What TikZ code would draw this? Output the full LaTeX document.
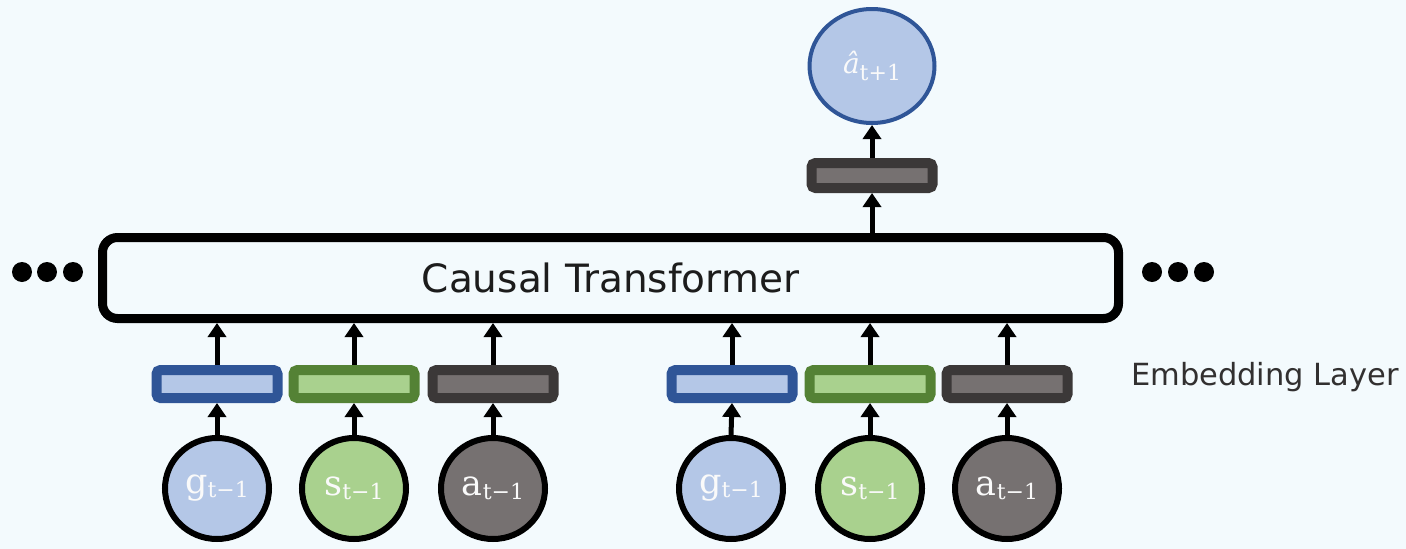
\documentclass[tikz,border=0pt]{standalone}
\usepackage{fontspec}
\setsansfont{DejaVu Sans}
\newfontfamily\lblfont{DejaVu Serif}
\usetikzlibrary{arrows.meta,shapes.geometric}
\definecolor{bg}{HTML}{F3FAFD}
\definecolor{fblue}{HTML}{B4C7E7}
\definecolor{bblue}{HTML}{2F5597}
\definecolor{fgreen}{HTML}{A9D18E}
\definecolor{bgreen}{HTML}{548235}
\definecolor{fgray}{HTML}{767171}
\definecolor{bgray}{HTML}{3B3838}
\definecolor{txt}{HTML}{1C1C1C}
% token label: base letter with a lowered, smaller index
\newcommand\toklbl[2]{#1\raisebox{-4pt}{\fontsize{22}{24}\selectfont #2}}
\tikzset{
  emb/.style={rectangle, rounded corners=4pt, line width=10pt,
    minimum width=121pt, minimum height=28pt, inner sep=0pt},
  embblue/.style={emb, draw=bblue, fill=fblue},
  embgreen/.style={emb, draw=bgreen, fill=fgreen},
  embgray/.style={emb, draw=bgray, fill=fgray},
  token/.style={ellipse, draw=black, line width=6pt, minimum width=104pt,
    minimum height=101pt, inner sep=0pt, text=white!96!gray,
    font=\lblfont\fontsize{35}{38}\selectfont},
  arr/.style={line width=5pt, -{Triangle[width=18pt,length=14pt]}},
  dot/.style={circle, fill=black, minimum size=20pt, inner sep=0pt},
}
\begin{document}
\begin{tikzpicture}[x=1pt,y=-1pt]
\fill[bg] (0,0) rectangle (1406,549);
\useasboundingbox (0,0) rectangle (1406,549);

% transformer block
\node[rectangle, draw=black, line width=9pt, rounded corners=15pt,
  minimum width=1016pt, minimum height=81pt, inner sep=0pt,
  font=\sffamily\fontsize{39}{44}\selectfont, text=txt] (tf) at (610.5,278) {Causal Transformer};

% ellipsis dots on both sides
\node[dot] (dl1) at (22,272) {};
\node[dot] (dl2) at (47,272) {};
\node[dot] (dl3) at (73,272) {};
\node[dot] (dr1) at (1152,272) {};
\node[dot] (dr2) at (1178,272) {};
\node[dot] (dr3) at (1204,272) {};

% embedding layer
\node[embblue]  (e1) at (217,384) {};
\node[embgreen] (e2) at (354,384) {};
\node[embgray]  (e3) at (493,384) {};
\node[embblue]  (e4) at (732,384) {};
\node[embgreen] (e5) at (870,384) {};
\node[embgray]  (e6) at (1007,384) {};
\node[font=\sffamily\fontsize{30.5}{36}\selectfont, text=bgray!85!black] (elabel) at (1265,377) {Embedding Layer};

% input tokens
\node[token, fill=fblue]  (g1) at (217,488.5) {\toklbl{g}{t−1}};
\node[token, fill=fgreen] (s1) at (354,488.5) {\toklbl{s}{t−1}};
\node[token, fill=fgray]  (a1) at (493,488.5) {\toklbl{a}{t−1}};
\node[token, fill=fblue]  (g2) at (731,488.5) {\toklbl{g}{t−1}};
\node[token, fill=fgreen] (s2) at (870,488.5) {\toklbl{s}{t−1}};
\node[token, fill=fgray]  (a2) at (1007,488.5) {\toklbl{a}{t−1}};

% output head
\node[emb, draw=bgray, fill=fgray, minimum height=25pt] (eo) at (872,175.5) {};
\node[ellipse, draw=bblue, fill=fblue, line width=4pt, minimum width=125pt,
  minimum height=114pt, inner sep=0pt, text=white!96!gray,
  font=\lblfont\fontsize{28}{30}\selectfont] (out) at (872,66)
  {\textit{â}\raisebox{-7pt}{\fontsize{22}{24}\selectfont t+1}};

% connections
\foreach \t/\e in {g1/e1, s1/e2, a1/e3, g2/e4, s2/e5, a2/e6} {
  \draw[arr] (\t.north) -- (\e.south);
  \draw[arr] (\e.north) -- (\e.north |- tf.south);
}
\draw[arr] (eo.south |- tf.north) -- (eo.south);
\draw[arr] (eo.north) -- (out.south);
\end{tikzpicture}
\end{document}
